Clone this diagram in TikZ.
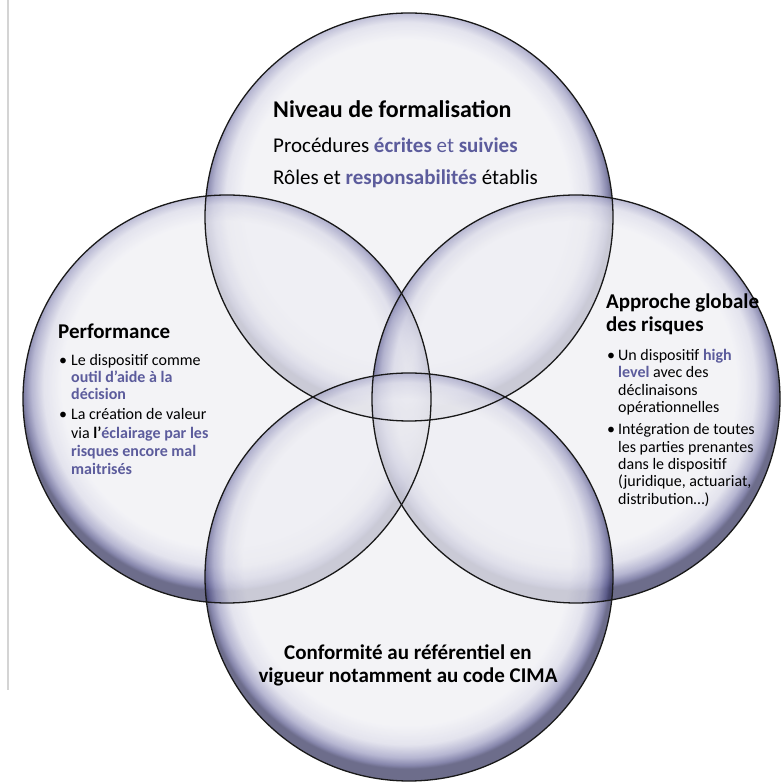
\documentclass[tikz,border=0pt]{standalone}
\usepackage{fontspec}
\setmainfont{Carlito}

\definecolor{bubcore}{HTML}{EEEEF3}
\definecolor{bubsoft}{HTML}{D9D9E7}
\definecolor{bubmid}{HTML}{9A9AC0}
\definecolor{bubdeep}{HTML}{58588C}
\definecolor{bubedge}{HTML}{34345E}
\definecolor{accent}{HTML}{5C5C9C}
\definecolor{framegrey}{HTML}{D4D4D4}

% glassy disc: light core, bluish rim slightly wider towards the bottom
\pgfdeclareradialshading{bubble}{\pgfpoint{-0.5bp}{3bp}}{%
  color(0bp)=(bubcore); color(20bp)=(bubcore); color(22.2bp)=(bubsoft);
  color(23.7bp)=(bubmid); color(24.6bp)=(bubdeep);
  color(25bp)=(bubedge); color(50bp)=(bubedge)}

\tikzset{
  disc/.style={circle, inner sep=0pt, outer sep=0pt, minimum size=408bp,
               shade, shading=bubble, fill opacity=0.72},
  rim/.style={draw=black!90, line width=1.3bp},
  headA/.style={inner sep=0pt, anchor=base west, font=\fontsize{24bp}{28bp}\selectfont\bfseries},
  headB/.style={inner sep=0pt, anchor=base west, font=\fontsize{21bp}{24bp}\selectfont\bfseries},
  headC/.style={inner sep=0pt, anchor=base, font=\fontsize{21bp}{24bp}\selectfont\bfseries},
  bodyL/.style={inner sep=0pt, anchor=base west, font=\fontsize{21bp}{24bp}\selectfont},
  small/.style={inner sep=0pt, anchor=base west, font=\fontsize{16bp}{18bp}\selectfont},
  dot/.style={inner sep=0pt, anchor=base, font=\fontsize{16bp}{18bp}\selectfont},
}

\begin{document}
\begin{tikzpicture}[x=1bp, y=1bp]
\useasboundingbox (0,0) rectangle (782,782);

% page rule on the left
\draw[framegrey, line width=1.6bp] (8,782) -- (8,92);

% the four overlapping discs
\node[disc] (top)    at (409,565) {};
\node[disc] (left)   at (227,383) {};
\node[disc] (right)  at (576,383) {};
\node[disc] (bottom) at (409,205) {};
\foreach \d in {top,left,right,bottom}
  \draw[rim] (\d.center) circle[radius=204];

% top disc
\node[headA] (topT) at (273,664) {Niveau de formalisation};
\node[bodyL] (topA) at (273,629) {Procédures {\color{accent}\textbf{écrites} et \textbf{suivies}}};
\node[bodyL] (topB) at (273,597) {Rôles et {\color{accent}\textbf{responsabilités}} établis};

% left disc
\node[headB] (perfT) at (58,443) {Performance};
\node[dot]   (perfD1) at (63,416) {•};
\node[small] (perf1) at (71,416) {Le dispositif comme};
\node[small] (perf2) at (71,399) {\color{accent}\textbf{outil d’aide à la}};
\node[small] (perf3) at (71,382) {\color{accent}\textbf{décision}};
\node[dot]   (perfD2) at (63,362) {•};
\node[small] (perf4) at (71,362) {La création de valeur};
\node[small] (perf5) at (71,343) {via \textbf{l’{\color{accent}éclairage par les}}};
\node[small] (perf6) at (71,325) {\color{accent}\textbf{risques encore mal}};
\node[small] (perf7) at (71,307) {\color{accent}\textbf{maitrisés}};

% right disc
\node[headB] (globT1) at (606,473) {Approche globale};
\node[headB] (globT2) at (606,450) {des risques};
\node[dot]   (globD1) at (611,421) {•};
\node[small] (glob1) at (618,421) {Un dispositif {\color{accent}\textbf{high}}};
\node[small] (glob2) at (618,404) {{\color{accent}\textbf{level}} avec des};
\node[small] (glob3) at (618,386) {déclinaisons};
\node[small] (glob4) at (618,369) {opérationnelles};
\node[dot]   (globD2) at (611,347) {•};
\node[small] (glob5) at (618,347) {Intégration de toutes};
\node[small] (glob6) at (618,329) {les parties prenantes};
\node[small] (glob7) at (618,312) {dans le dispositif};
\node[small] (glob8) at (618,295) {(juridique, actuariat,};
\node[small] (glob9) at (618,277) {distribution…)};

% bottom disc
\node[headC] (confA) at (408,122) {Conformité au référentiel en};
\node[headC] (confB) at (408,99) {vigueur notamment au code CIMA};
\end{tikzpicture}
\end{document}
